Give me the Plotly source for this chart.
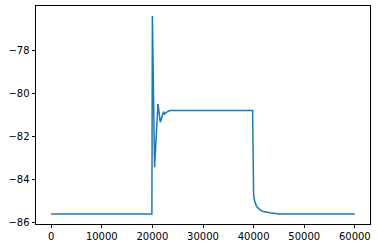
import plotly.graph_objects as go

# Data
x_vals = [0, 19900, 20000, 20430, 21100, 21560, 22200, 22400, 22880, 23500,
          39800, 40000, 40200, 40600, 41200, 41900, 43200, 45000, 60000]
y_vals = [-85.6, -85.6, -76.4, -83.43, -80.49, -81.34, -80.85, -80.96, -80.86, -80.80,
          -80.80, -84.7, -85.0, -85.26, -85.40, -85.49, -85.55, -85.6, -85.6]

x_ticks = [0, 10000, 20000, 30000, 40000, 50000, 60000]
x_tick_labels = ["0", "10000", "20000", "30000", "40000", "50000", "60000"]
y_ticks = [-86, -84, -82, -80, -78]
y_tick_labels = ["\u221286", "\u221284", "\u221282", "\u221280", "\u221278"]

fig = go.Figure()
fig.add_trace(go.Scatter(x=x_vals, y=y_vals, mode="lines",
                         line=dict(color="#1f77b4", width=1.5)))

axis_common = dict(showline=True, linecolor="black", linewidth=0.8, mirror=True,
                   showgrid=False, zeroline=False, ticks="outside", ticklen=3.5,
                   tickwidth=0.8, tickcolor="black",
                   tickfont=dict(family="DejaVu Sans", size=10, color="black"))

fig.update_layout(
    width=378, height=248,
    margin=dict(l=36, r=8, t=6, b=24),
    paper_bgcolor="white", plot_bgcolor="white",
    showlegend=False,
    xaxis=dict(range=[-3000, 63000], tickvals=x_ticks, ticktext=x_tick_labels, **axis_common),
    yaxis=dict(range=[-86.07, -75.94], tickvals=y_ticks, ticktext=y_tick_labels, **axis_common),
)

fig.write_html("out.html")
